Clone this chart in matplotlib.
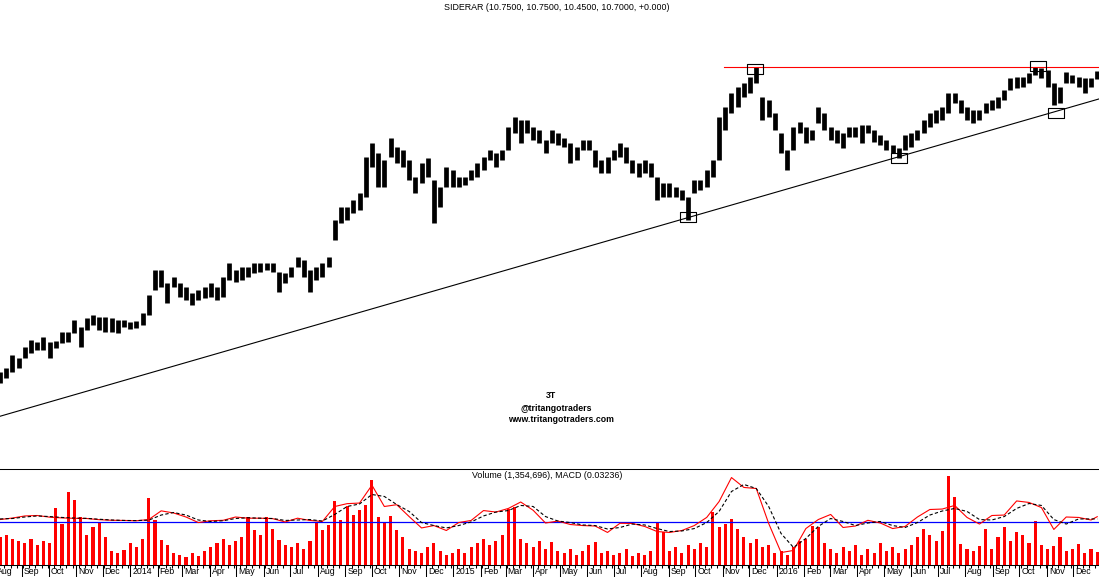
import numpy as np
import pandas as pd
import matplotlib
matplotlib.use("Agg")
import matplotlib.pyplot as plt
import matplotlib.dates as mdates
from matplotlib.path import Path

plt.rcParams['font.family'] = ['Liberation Sans', 'DejaVu Sans']

# weekly bars, one per week (dated on the Wednesday)
week_start = '2013-08-07'
n_weeks = 178

week_high = [3.71, 3.76, 3.94, 3.89, 4.05, 4.15, 4.12, 4.19, 4.12, 4.13,
             4.27, 4.27, 4.45, 4.34, 4.49, 4.53, 4.50, 4.50, 4.49, 4.45,
             4.45, 4.42, 4.44, 4.57, 4.87, 5.32, 5.32, 5.08, 5.18, 5.08,
             5.00, 4.90, 4.95, 5.00, 5.08, 5.00, 5.18, 5.45, 5.32, 5.37,
             5.37, 5.45, 5.45, 5.45, 5.45, 5.28, 5.26, 5.37, 5.56, 5.51,
             5.32, 5.37, 5.45, 5.56, 6.34, 6.64, 6.64, 6.81, 6.98, 7.92,
             8.33, 8.04, 7.84, 8.47, 8.21, 8.12, 7.84, 7.38, 7.76, 7.90,
             7.31, 7.13, 7.65, 7.57, 7.38, 7.38, 7.57, 7.76, 7.92, 8.12,
             8.04, 8.12, 8.81, 9.13, 9.03, 9.03, 8.81, 8.72, 8.42, 8.72,
             8.62, 8.47, 8.33, 8.21, 8.42, 8.42, 8.12, 7.84, 7.92, 8.12,
             8.33, 8.21, 7.84, 7.76, 7.84, 7.76, 7.38, 7.23, 7.23, 7.13,
             7.05, 6.88, 7.31, 7.31, 7.57, 7.84, 9.13, 9.45, 9.93, 10.15,
             10.29, 10.51, 10.89, 9.79, 9.69, 9.26, 8.62, 8.12, 8.81, 8.97,
             8.81, 8.72, 9.45, 9.26, 8.81, 8.72, 8.62, 8.81, 8.81, 8.87,
             8.87, 8.72, 8.56, 8.42, 8.27, 8.18, 8.56, 8.62, 8.72, 9.03,
             9.26, 9.36, 9.45, 9.93, 9.93, 9.69, 9.45, 9.36, 9.36, 9.59,
             9.69, 9.79, 10.04, 10.48, 10.51, 10.51, 10.66, 10.89, 10.85, 10.78,
             10.29, 10.15, 10.70, 10.59, 10.51, 10.48, 10.48, 10.75]

week_low = [3.56, 3.63, 3.71, 3.76, 3.89, 3.96, 4.01, 4.01, 3.89, 4.03,
            4.11, 4.12, 4.25, 4.05, 4.30, 4.38, 4.30, 4.27, 4.27, 4.25,
            4.34, 4.31, 4.33, 4.38, 4.53, 4.95, 5.00, 4.73, 5.00, 4.83,
            4.78, 4.70, 4.78, 4.81, 4.83, 4.78, 4.83, 5.13, 5.09, 5.13,
            5.18, 5.26, 5.28, 5.32, 5.28, 4.92, 5.08, 5.18, 5.37, 5.18,
            4.92, 5.13, 5.18, 5.37, 5.91, 6.27, 6.34, 6.50, 6.57, 6.88,
            7.65, 7.13, 7.13, 7.92, 7.76, 7.65, 7.31, 6.98, 7.23, 7.38,
            6.27, 6.64, 7.13, 7.13, 7.13, 7.18, 7.31, 7.38, 7.57, 7.84,
            7.65, 7.84, 8.12, 8.62, 8.33, 8.62, 8.42, 8.33, 8.04, 8.33,
            8.27, 8.21, 7.76, 7.84, 8.12, 8.12, 7.65, 7.49, 7.49, 7.84,
            7.92, 7.76, 7.49, 7.38, 7.49, 7.38, 6.81, 6.88, 6.88, 6.88,
            6.81, 6.34, 6.98, 7.05, 7.13, 7.38, 7.84, 8.72, 9.26, 9.45,
            9.79, 9.93, 10.29, 9.03, 9.13, 8.72, 8.04, 7.57, 8.12, 8.62,
            8.33, 8.42, 8.94, 8.72, 8.42, 8.33, 8.18, 8.50, 8.50, 8.33,
            8.62, 8.36, 8.27, 8.12, 8.04, 7.90, 8.12, 8.21, 8.42, 8.62,
            8.81, 8.94, 9.03, 9.26, 9.59, 9.26, 9.03, 8.94, 9.03, 9.26,
            9.36, 9.42, 9.69, 10.04, 10.11, 10.15, 10.29, 10.59, 10.48, 10.15,
            9.52, 9.59, 10.29, 10.29, 10.15, 9.93, 10.15, 10.45]

# volume in millions of shares
week_vol = [2.8, 3.0, 2.6, 2.4, 2.2, 2.6, 2.0, 2.4, 2.2, 5.7,
            4.1, 7.3, 6.5, 4.8, 3.0, 3.8, 4.3, 2.8, 1.4, 1.2,
            1.5, 2.2, 1.8, 2.6, 6.7, 4.5, 2.5, 2.0, 1.2, 1.0,
            0.8, 1.2, 0.9, 1.4, 1.8, 2.2, 2.6, 2.0, 2.4, 2.8,
            4.8, 3.5, 3.0, 4.8, 3.6, 2.5, 2.0, 1.8, 2.2, 1.6,
            2.4, 4.3, 3.5, 4.0, 6.4, 4.5, 5.9, 5.0, 5.5, 6.0,
            8.5, 4.8, 4.2, 4.9, 3.5, 2.8, 1.6, 1.4, 1.2, 1.8,
            2.2, 1.4, 1.0, 1.2, 1.6, 1.2, 1.8, 2.2, 2.6, 2.0,
            2.4, 3.0, 5.6, 5.8, 2.6, 2.2, 1.8, 2.4, 1.6, 2.3,
            1.4, 1.2, 1.6, 1.0, 1.4, 2.0, 2.3, 1.2, 1.4, 1.0,
            1.2, 1.6, 0.9, 1.2, 1.0, 1.4, 4.3, 3.3, 1.4, 1.8,
            1.2, 2.0, 1.6, 2.2, 1.8, 5.3, 3.8, 4.1, 4.6, 3.6,
            2.8, 2.2, 2.6, 1.8, 2.0, 1.2, 1.4, 1.0, 1.8, 2.4,
            2.6, 3.9, 3.8, 2.2, 1.6, 1.2, 1.8, 1.4, 2.0, 1.0,
            1.6, 1.2, 2.2, 1.4, 1.8, 1.2, 1.6, 2.0, 2.8, 3.6,
            3.0, 2.4, 3.4, 8.9, 6.8, 2.1, 1.6, 1.4, 1.9, 3.6,
            1.6, 2.8, 3.8, 2.4, 3.3, 3.0, 2.2, 4.4, 2.0, 1.6,
            1.9, 2.8, 1.4, 1.6, 2.1, 1.2, 1.6, 1.35]

# MACD and signal, every second week plus the last one
macd = [0.013, 0.023, 0.037, 0.040, 0.029, 0.024, 0.021, 0.020, 0.012, 0.008,
        0.007, 0.005, 0.013, 0.071, 0.057, 0.030, -0.007, 0.005, 0.008, 0.030,
        0.022, 0.022, 0.019, -0.003, 0.022, 0.007, 0.000, 0.100, 0.119, 0.123,
        0.242, 0.100, 0.112, 0.033, -0.043, -0.027, -0.060, -0.007, 0.007, 0.073,
        0.063, 0.087, 0.130, 0.075, -0.010, 0.003, -0.020, -0.027, -0.030, -0.073,
        -0.012, -0.013, -0.033, -0.067, -0.073, -0.060, -0.027, 0.027, 0.133, 0.293,
        0.227, 0.220, -0.013, -0.207, -0.193, -0.047, 0.013, 0.047, -0.040, -0.030,
        0.008, -0.010, -0.047, -0.033, 0.030, 0.080, 0.083, 0.107, 0.027, -0.017,
        0.040, 0.043, 0.137, 0.127, 0.093, -0.053, 0.030, 0.027, 0.010,
        0.032]
signal = [0.017, 0.020, 0.030, 0.037, 0.033, 0.027, 0.023, 0.021, 0.015, 0.010,
          0.007, 0.006, 0.009, 0.043, 0.060, 0.043, 0.010, 0.000, 0.005, 0.020,
          0.025, 0.022, 0.020, 0.007, 0.010, 0.013, 0.003, 0.047, 0.100, 0.117,
          0.180, 0.167, 0.113, 0.067, -0.007, -0.027, -0.043, -0.027, -0.003, 0.037,
          0.063, 0.073, 0.107, 0.100, 0.033, 0.003, -0.007, -0.023, -0.027, -0.050,
          -0.040, -0.017, -0.023, -0.047, -0.067, -0.063, -0.047, -0.007, 0.067, 0.200,
          0.247, 0.220, 0.100, -0.080, -0.173, -0.113, -0.033, 0.020, 0.000, -0.027,
          -0.010, 0.000, -0.027, -0.040, -0.007, 0.043, 0.070, 0.087, 0.067, 0.013,
          0.010, 0.033, 0.087, 0.120, 0.107, 0.013, -0.017, 0.017, 0.017,
          0.017]

# drawn lines and boxes
trend_dates = ['2013-08-07', '2016-12-30']
trend_prices = [3.17, 9.73]
resist_dates = ['2015-11-02', '2016-12-30']
resist_prices = [10.89, 10.89]
box_dates = ['2015-09-23', '2015-12-07', '2016-05-18', '2016-10-22', '2016-11-12']
box_prices = [6.40, 10.83, 7.91, 10.93, 9.26]

title = 'SIDERAR (10.7500, 10.7500, 10.4500, 10.7000, +0.000)'
sub_title = 'Volume (1,354,696), MACD (0.03236)'

weeks = pd.date_range(week_start, periods=n_weeks, freq='7D')
wx = mdates.date2num(weeks.to_pydatetime())
mx = np.append(wx[0:177:2], wx[177])
x0 = mdates.datestr2num('2013-08-07')
x1 = mdates.datestr2num('2016-12-30')

W, H = 1099, 577
fig = plt.figure(figsize=(W / 100, H / 100), dpi=100)

# price panel
ax = fig.add_axes([0, (H - 469) / H, 1, 457 / H])
ax.vlines(wx, week_low, week_high, colors='black', linewidth=3.4, capstyle='butt')
ax.plot(mdates.datestr2num(trend_dates), trend_prices, color='black', lw=0.8)
ax.plot(mdates.datestr2num(resist_dates), resist_prices, color='red', lw=0.8)
box = Path([(-8, -5.5), (8, -5.5), (8, 5.5), (-8, 5.5), (-8, -5.5)],
           [Path.MOVETO, Path.LINETO, Path.LINETO, Path.LINETO, Path.CLOSEPOLY])
ax.plot(mdates.datestr2num(box_dates), box_prices, ls='none', marker=box,
        ms=11.5, mfc='none', mec='black', mew=0.8)
ax.set_yscale('log')
ax.set_ylim(2.631, 13.23)
ax.set_xlim(x0, x1)
ax.axis('off')

# volume + macd panel
ax2 = fig.add_axes([0, 12 / H, 1, 96 / H])
ax2.bar(wx, week_vol, width=3.5, color='red', linewidth=0)
ax2.set_ylim(0, 9.6)
ax2.set_xlim(x0, x1)
ax2.set_yticks([])
for s in ['left', 'right']:
    ax2.spines[s].set_visible(False)
for s in ['top', 'bottom']:
    ax2.spines[s].set_linewidth(0.75)

months = pd.date_range('2013-08-01', '2016-12-01', freq='MS')
mnum = mdates.date2num(months.to_pydatetime())
ax2.set_xticks(mnum[1:])
ax2.set_xticklabels([])
mondays = pd.date_range('2013-08-12', '2016-12-26', freq='7D')
ax2.set_xticks(mdates.date2num(mondays.to_pydatetime()), minor=True)
ax2.tick_params(axis='x', which='major', length=8.6, width=0.75, color='black')
ax2.tick_params(axis='x', which='minor', length=2.5, width=0.75, color='black')
for d, m in zip(mnum, months):
    lab = str(m.year) if m.month == 1 else m.strftime('%b')
    ax2.annotate(lab, xy=(d, 0), xycoords=('data', 'axes fraction'),
                 xytext=(2, -2), textcoords='offset pixels', ha='left', va='top',
                 fontsize=6.3, annotation_clip=False)

ax3 = ax2.twinx()
ax3.set_ylim(-0.29, 0.35)
ax3.axhline(0, color='#0000ff', lw=0.9)
ax3.plot(mx, macd, color='red', lw=0.8)
ax3.plot(mx, signal, color='black', lw=0.8, ls=(0, (3, 2)))
ax3.set_yticks([])
for s in ax3.spines.values():
    s.set_visible(False)

fig.text(556.5 / W, 1 - 7 / H, title, ha='center', va='center', fontsize=6.4)
fig.text(547 / W, 1 - 475 / H, sub_title, ha='center', va='center', fontsize=6.4)
fig.text(550.5 / W, 1 - 395.5 / H, '3T', ha='center', va='center', fontsize=6.3, fontweight='bold')
fig.text(556 / W, 1 - 408.5 / H, '@tritangotraders', ha='center', va='center', fontsize=6.3, fontweight='bold')
fig.text(560.5 / W, 1 - 419 / H, 'www.tritangotraders.com', ha='center', va='center', fontsize=6.3, fontweight='bold')

fig.savefig('out.png', dpi=100, facecolor='white')
